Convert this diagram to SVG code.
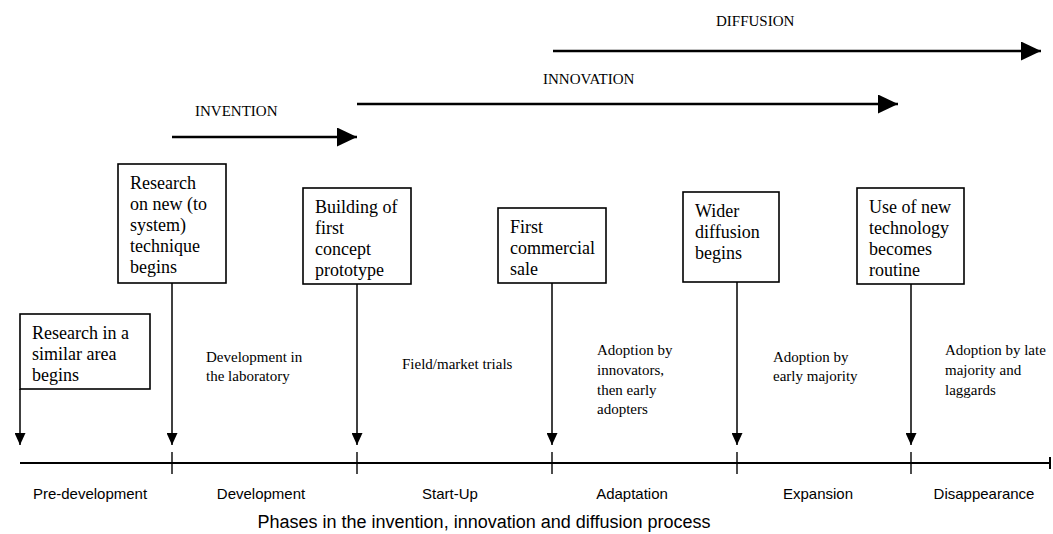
<svg xmlns="http://www.w3.org/2000/svg" width="1053" height="534" viewBox="0 0 1053 534">
<defs>
<style>
.bg{fill:#ffffff}
.box{fill:#ffffff;stroke:#000;stroke-width:1.6}
.bt{font-family:"Liberation Serif","Times New Roman",serif;font-size:18px;fill:#000}
.lt{font-family:"Liberation Serif","Times New Roman",serif;font-size:15px;fill:#000}
.tt{font-family:"Liberation Serif","Times New Roman",serif;font-size:15px;fill:#000}
.ph{font-family:"Liberation Sans",Arial,sans-serif;font-size:15px;fill:#000;text-anchor:middle}
.cap{font-family:"Liberation Sans",Arial,sans-serif;font-size:18px;fill:#000;text-anchor:middle}
.vl{stroke:#000;stroke-width:1.5;fill:none}
.big{stroke:#000;stroke-width:2.6;fill:none}
.axis{stroke:#000;stroke-width:2;fill:none}
.tick{stroke:#000;stroke-width:1.4;fill:none}
</style>
<marker id="ah" viewBox="0 0 12 11" refX="12" refY="5.5" markerWidth="12" markerHeight="11" markerUnits="userSpaceOnUse" orient="auto">
<path d="M0,0 L12,5.5 L0,11 Z" fill="#000"/>
</marker>
<marker id="bh" viewBox="0 0 20 19" refX="20" refY="9.5" markerWidth="20" markerHeight="19" markerUnits="userSpaceOnUse" orient="auto">
<path d="M0,0 L20,9.5 L0,19 Z" fill="#000"/>
</marker>
</defs>
<rect class="bg" x="0" y="0" width="1053" height="534"/>

<g id="stage-labels">
<text class="tt" x="716" y="26">DIFFUSION</text>
<text class="tt" x="543" y="84">INNOVATION</text>
<text class="tt" x="195" y="116">INVENTION</text>
</g>

<g id="connectors">
<line class="big" x1="553" y1="51" x2="1041" y2="51" marker-end="url(#bh)"/>
<line class="big" x1="357" y1="104" x2="898" y2="104" marker-end="url(#bh)"/>
<line class="big" x1="172" y1="137" x2="357" y2="137" marker-end="url(#bh)"/>
<line class="vl" x1="20" y1="389" x2="20" y2="445" marker-end="url(#ah)"/>
<line class="vl" x1="172" y1="283" x2="172" y2="445" marker-end="url(#ah)"/>
<line class="vl" x1="357" y1="284" x2="357" y2="445" marker-end="url(#ah)"/>
<line class="vl" x1="552" y1="283" x2="552" y2="445" marker-end="url(#ah)"/>
<line class="vl" x1="737" y1="282" x2="737" y2="445" marker-end="url(#ah)"/>
<line class="vl" x1="911" y1="284" x2="911" y2="445" marker-end="url(#ah)"/>
</g>

<g id="timeline">
<line class="axis" x1="20" y1="463" x2="1050" y2="463"/>
<line class="tick" x1="172" y1="452" x2="172" y2="474"/>
<line class="tick" x1="357" y1="452" x2="357" y2="474"/>
<line class="tick" x1="552" y1="452" x2="552" y2="474"/>
<line class="tick" x1="737" y1="452" x2="737" y2="474"/>
<line class="tick" x1="911" y1="452" x2="911" y2="474"/>
<line class="axis" x1="1050" y1="457" x2="1050" y2="469"/>
</g>

<g id="node-research-similar">
<rect class="box" x="20" y="314" width="130" height="75"/>
<text class="bt" x="32" y="339">Research in a</text>
<text class="bt" x="32" y="360">similar area</text>
<text class="bt" x="32" y="381">begins</text>
</g>

<g id="node-research-new">
<rect class="box" x="118" y="164" width="108" height="119"/>
<text class="bt" x="130" y="189">Research</text>
<text class="bt" x="130" y="210">on new (to</text>
<text class="bt" x="130" y="231">system)</text>
<text class="bt" x="130" y="252">technique</text>
<text class="bt" x="130" y="273">begins</text>
</g>

<g id="node-prototype">
<rect class="box" x="303" y="188" width="108" height="96"/>
<text class="bt" x="315" y="213">Building of</text>
<text class="bt" x="315" y="234">first</text>
<text class="bt" x="315" y="255">concept</text>
<text class="bt" x="315" y="276">prototype</text>
</g>

<g id="node-first-sale">
<rect class="box" x="498" y="208" width="108" height="75"/>
<text class="bt" x="510" y="233">First</text>
<text class="bt" x="510" y="254">commercial</text>
<text class="bt" x="510" y="275">sale</text>
</g>

<g id="node-wider-diffusion">
<rect class="box" x="683" y="192" width="96" height="90"/>
<text class="bt" x="695" y="217">Wider</text>
<text class="bt" x="695" y="238">diffusion</text>
<text class="bt" x="695" y="259">begins</text>
</g>

<g id="node-routine">
<rect class="box" x="857" y="188" width="107" height="96"/>
<text class="bt" x="869" y="213">Use of new</text>
<text class="bt" x="869" y="234">technology</text>
<text class="bt" x="869" y="255">becomes</text>
<text class="bt" x="869" y="276">routine</text>
</g>

<g id="activity-labels">
<text class="lt" x="206" y="362">Development in</text>
<text class="lt" x="206" y="381">the laboratory</text>
<text class="lt" x="402" y="369">Field/market trials</text>
<text class="lt" x="597" y="355">Adoption by</text>
<text class="lt" x="597" y="375">innovators,</text>
<text class="lt" x="597" y="395">then early</text>
<text class="lt" x="597" y="414">adopters</text>
<text class="lt" x="773" y="362">Adoption by</text>
<text class="lt" x="773" y="381">early majority</text>
<text class="lt" x="945" y="355">Adoption by late</text>
<text class="lt" x="945" y="375">majority and</text>
<text class="lt" x="945" y="395">laggards</text>
</g>

<g id="phase-labels">
<text class="ph" x="90" y="499">Pre-development</text>
<text class="ph" x="261" y="499">Development</text>
<text class="ph" x="450" y="499">Start-Up</text>
<text class="ph" x="632" y="499">Adaptation</text>
<text class="ph" x="818" y="499">Expansion</text>
<text class="ph" x="984" y="499">Disappearance</text>
<text class="cap" x="484" y="528">Phases in the invention, innovation and diffusion process</text>
</g>
</svg>
